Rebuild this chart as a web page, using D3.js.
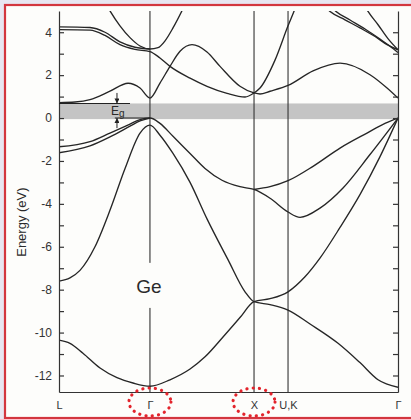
<!DOCTYPE html>
<html>
<head>
<meta charset="utf-8">
<script src="https://cdn.jsdelivr.net/npm/d3@7"></script>
<style>
  html, body { margin: 0; padding: 0; background: #e8e6f1; }
  svg { display: block; }
  .band { fill: none; stroke: #262626; stroke-width: 1.35; }
  .sym { stroke: #333; stroke-width: 1.1; }
  .axis path, .axis line { stroke: #333; stroke-width: 1.2; }
  .axis text { font-family: "Liberation Sans", Arial, sans-serif; font-size: 12px; fill: #333; }
  .label { font-family: "Liberation Sans", Arial, sans-serif; fill: #2a2a2a; }
</style>
</head>
<body>
<div id="chart"></div>
<script>
// high symmetry points on the k path
var symLabels = ["L", "Γ", "X", "U,K", "Γ"];
var symK = [0, 0.88, 1.887, 2.216, 3.28];
var circled = [1, 2];

var yTicks = d3.range(-12, 5);
var gapTop = 0.68;
var gapBottom = -0.05;

// bands, [k, energy in eV]
var cbLambdaDelta = [[0,0.72],[0.155,0.75],[0.3,0.86],[0.493,1.25],[0.668,1.62],[0.784,1.4],[0.88,0.93],[0.977,1.63],[1.074,2.41],[1.171,3.11],[1.287,3.42],[1.432,3.08],[1.558,2.41],[1.751,1.48],[1.887,1.17],[1.945,1.12],[2.042,1.25],[2.216,1.52],[2.458,2.2],[2.719,2.56],[3.009,2.02],[3.174,1.4],[3.28,0.93]];
var cbL3Delta1 = [[0,4.12],[0.3,4.1],[0.445,3.85],[0.59,3.42],[0.735,3.2],[0.88,3.1],[0.977,2.8],[1.074,2.41],[1.268,1.86],[1.432,1.48],[1.626,1.15],[1.8,0.98],[1.887,1.17],[1.945,1.4],[2.09,2.7],[2.216,4.3],[2.284,5.1],[2.33,5.7]];
var cbL3Upper = [[0,4.25],[0.3,4.22],[0.445,4.0],[0.59,3.55],[0.735,3.3],[0.88,3.22]];
var cbGamma15 = [[0.445,5.4],[0.493,5.0],[0.59,4.3],[0.687,3.75],[0.784,3.36],[0.88,3.22],[0.958,3.28],[1.026,3.6],[1.103,4.2],[1.2,5.1],[1.25,5.6]];
var cbKG1 = [[2.55,5.3],[2.622,4.97],[2.767,4.58],[2.912,4.2],[3.058,3.8],[3.174,3.42],[3.28,3.18]];
var cbKG2 = [[2.61,5.3],[2.68,4.97],[2.816,4.57],[2.961,4.15],[3.106,3.68],[3.203,3.35],[3.28,3.05]];
var cbKG3 = [[2.95,5.3],[2.99,4.97],[3.087,4.35],[3.183,3.7],[3.28,3.18]];

var vbHeavy = [[0,-1.34],[0.3,-1.1],[0.493,-0.7],[0.687,-0.28],[0.784,-0.07],[0.88,0],[0.977,-0.25],[1.103,-0.85],[1.268,-1.65],[1.413,-2.35],[1.577,-2.9],[1.751,-3.2],[1.887,-3.33],[2.042,-3.74],[2.216,-4.38],[2.332,-4.63],[2.525,-4.2],[2.748,-3.26],[3.009,-1.7],[3.28,0]];
var vbLight = [[0,-1.62],[0.3,-1.3],[0.493,-0.88],[0.687,-0.38],[0.784,-0.13],[0.88,0]];
var vbUpperXK = [[1.887,-3.33],[2.042,-3.2],[2.216,-2.92],[2.458,-2.25],[2.719,-1.4],[2.98,-0.7],[3.154,-0.25],[3.28,0]];
var vbSplit = [[0,-7.6],[0.106,-7.45],[0.203,-7.1],[0.348,-6.0],[0.493,-4.3],[0.639,-2.35],[0.784,-0.7],[0.88,-0.33],[0.977,-0.8],[1.103,-1.65],[1.268,-3.0],[1.432,-4.7],[1.635,-6.6],[1.8,-8.1],[1.887,-8.56],[2.042,-8.7],[2.216,-8.95],[2.429,-9.6],[2.7,-10.5],[2.912,-11.4],[3.087,-12.2],[3.28,-12.55]];
var vbLowest = [[0,-10.35],[0.106,-10.5],[0.232,-10.96],[0.397,-11.65],[0.561,-12.1],[0.716,-12.35],[0.88,-12.5],[1.074,-12.2],[1.268,-11.7],[1.413,-11.13],[1.606,-10.1],[1.751,-9.3],[1.887,-8.56],[2.042,-8.42],[2.216,-8.1],[2.38,-7.4],[2.525,-6.53],[2.719,-5.1],[2.912,-3.57],[3.106,-1.8],[3.28,0]];

var bands = [cbLambdaDelta, cbL3Delta1, cbL3Upper, cbGamma15, cbKG1, cbKG2, cbKG3,
             vbHeavy, vbLight, vbUpperXK, vbSplit, vbLowest];

function init() {
  var w = 411;
  var h = 419;
  var left = 59, right = 398, top = 11, bottom = 392;

  var svg = d3.select("#chart")
    .append("svg")
    .attr("width", w)
    .attr("height", h);

  // frame
  svg.append("rect")
    .attr("x", 5)
    .attr("y", 5)
    .attr("width", 440)
    .attr("height", 413)
    .attr("fill", "#fdfdfb")
    .attr("stroke", "#d3363f")
    .attr("stroke-width", 2.2);

  var xScale = d3.scaleLinear()
    .domain([symK[0], symK[symK.length - 1]])
    .range([left, right]);

  var yScale = d3.scaleLinear()
    .domain([-12.77, 4.99])
    .range([bottom, top]);

  svg.append("clipPath")
    .attr("id", "plot")
    .append("rect")
    .attr("x", left)
    .attr("y", top)
    .attr("width", right - left)
    .attr("height", bottom - top);

  // band gap shading
  svg.append("rect")
    .attr("x", xScale(symK[0]))
    .attr("y", yScale(gapTop))
    .attr("width", xScale(symK[4]) - xScale(symK[0]))
    .attr("height", yScale(gapBottom) - yScale(gapTop))
    .attr("fill", "#c4c4c4");

  // vertical lines at the symmetry points
  svg.selectAll("line.sym")
    .data(symK.slice(1, 4))
    .enter()
    .append("line")
    .attr("class", "sym")
    .attr("x1", function(d) { return xScale(d); })
    .attr("x2", function(d) { return xScale(d); })
    .attr("y1", top)
    .attr("y2", bottom);

  // gap in the Gamma line for the label
  svg.append("rect")
    .attr("x", xScale(symK[1]) - 12)
    .attr("y", yScale(-6.75))
    .attr("width", 24)
    .attr("height", yScale(-8.85) - yScale(-6.75))
    .attr("fill", "#fdfdfb");

  svg.append("text")
    .attr("class", "label")
    .attr("x", xScale(symK[1]) - 1)
    .attr("y", yScale(-8.15))
    .attr("text-anchor", "middle")
    .attr("font-size", "19px")
    .text("Ge");

  var line = d3.line()
    .curve(d3.curveMonotoneX)
    .x(function(d) { return xScale(d[0]); })
    .y(function(d) { return yScale(d[1]); });

  svg.append("g")
    .attr("clip-path", "url(#plot)")
    .selectAll("path")
    .data(bands)
    .enter()
    .append("path")
    .attr("class", "band")
    .attr("d", line);

  // axes
  var yAxis = d3.axisLeft(yScale)
    .tickValues(yTicks)
    .tickSizeInner(-5)
    .tickSizeOuter(0)
    .tickPadding(7)
    .tickFormat(function(d) { return d % 2 === 0 ? String(d) : ""; });

  svg.append("g")
    .attr("class", "axis")
    .attr("transform", "translate(" + left + ",0)")
    .call(yAxis);

  var yAxisRight = d3.axisRight(yScale)
    .tickValues(yTicks)
    .tickSizeInner(-5)
    .tickSizeOuter(0)
    .tickFormat("");

  svg.append("g")
    .attr("class", "axis")
    .attr("transform", "translate(" + right + ",0)")
    .call(yAxisRight);

  var xAxis = d3.axisBottom(xScale)
    .tickValues(symK)
    .tickSize(0)
    .tickPadding(9)
    .tickFormat(function(d, i) { return symLabels[i]; });

  var gx = svg.append("g")
    .attr("class", "axis")
    .attr("transform", "translate(0," + bottom + ")")
    .call(xAxis);
  gx.selectAll("text").style("font-size", "11px");

  // red dotted circles around Gamma and X
  svg.selectAll("ellipse.mark")
    .data(circled)
    .enter()
    .append("ellipse")
    .attr("class", "mark")
    .attr("cx", function(i) { return xScale(symK[i]); })
    .attr("cy", bottom + 10)
    .attr("rx", 21)
    .attr("ry", 14)
    .attr("fill", "none")
    .attr("stroke", "#e3242c")
    .attr("stroke-width", 3.2)
    .attr("stroke-linecap", "round")
    .attr("stroke-dasharray", "0.1 6.2");

  svg.append("text")
    .attr("class", "label")
    .attr("transform", "translate(25.5," + yScale(-4.85) + ") rotate(-90)")
    .attr("text-anchor", "middle")
    .attr("font-size", "13px")
    .text("Energy (eV)");

  // Eg annotation
  var kArrow = 0.561;
  svg.append("defs").append("marker")
    .attr("id", "head")
    .attr("viewBox", "0 0 6 6")
    .attr("refX", 6)
    .attr("refY", 3)
    .attr("markerWidth", 5)
    .attr("markerHeight", 5)
    .attr("markerUnits", "userSpaceOnUse")
    .attr("orient", "auto")
    .append("path")
    .attr("d", "M0,0L6,3L0,6z")
    .attr("fill", "#222");

  svg.append("line")
    .attr("x1", xScale(0))
    .attr("x2", xScale(0.687))
    .attr("y1", yScale(gapTop))
    .attr("y2", yScale(gapTop))
    .attr("stroke", "#222")
    .attr("stroke-width", 1.1);

  svg.append("line")
    .attr("x1", xScale(0.54))
    .attr("x2", xScale(symK[1]))
    .attr("y1", yScale(0))
    .attr("y2", yScale(0))
    .attr("stroke", "#222")
    .attr("stroke-width", 1.1);

  svg.append("line")
    .attr("x1", xScale(kArrow))
    .attr("x2", xScale(kArrow))
    .attr("y1", yScale(1.17))
    .attr("y2", yScale(gapTop))
    .attr("stroke", "#222")
    .attr("stroke-width", 1)
    .attr("marker-end", "url(#head)");

  svg.append("line")
    .attr("x1", xScale(kArrow))
    .attr("x2", xScale(kArrow))
    .attr("y1", yScale(-0.47))
    .attr("y2", yScale(0))
    .attr("stroke", "#222")
    .attr("stroke-width", 1)
    .attr("marker-end", "url(#head)");

  var eg = svg.append("text")
    .attr("class", "label")
    .attr("x", xScale(kArrow) - 6)
    .attr("y", yScale(0.12))
    .attr("font-size", "12px")
    .text("E");
  eg.append("tspan")
    .attr("font-size", "10px")
    .attr("dy", 2)
    .text("g");
}

window.onload = init;
</script>
</body>
</html>
